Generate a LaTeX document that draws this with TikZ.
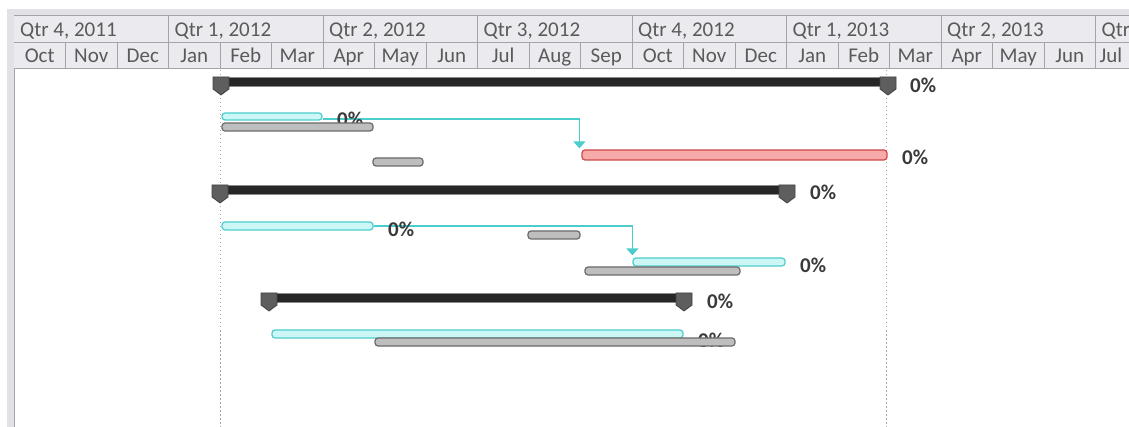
\documentclass[tikz,border=0pt]{standalone}
\usepackage{fontspec}
\setmainfont{Carlito}
\usetikzlibrary{arrows.meta,calc}
\definecolor{hdrfill}{HTML}{EBEBEF}
\definecolor{hdrband}{HTML}{E2E2E6}
\definecolor{hdrline}{HTML}{A4A4A8}
\definecolor{hdrtext}{HTML}{5A5A5A}
\definecolor{cyanfill}{HTML}{CDF6F6}
\definecolor{cyanline}{HTML}{4CCDCD}
\definecolor{grayfill}{HTML}{BEBEBE}
\definecolor{grayline}{HTML}{6A6A6A}
\definecolor{redfill}{HTML}{F7AAAA}
\definecolor{redline}{HTML}{D04848}
\definecolor{sumfill}{HTML}{262626}
\definecolor{sumline}{HTML}{8A8A8A}
\definecolor{capfill}{HTML}{5E5E5E}
\definecolor{lbltext}{HTML}{3A3A3A}
\tikzset{
  hdrtxt/.style={text=hdrtext,font=\fontsize{21}{24}\selectfont,inner sep=0pt},
  barbase/.style={rectangle,rounded corners=3pt,inner sep=0pt,line width=1.2pt},
  cyanbar/.style={barbase,fill=cyanfill,draw=cyanline},
  graybar/.style={barbase,fill=grayfill,draw=grayline},
  redbar/.style={barbase,fill=redfill,draw=redline},
  sumbar/.style={rectangle,inner sep=0pt,fill=sumfill,draw=sumline,line width=1pt},
  capshape/.style={fill=capfill,draw=capfill!70!black,line width=0.8pt},
  pct/.style={anchor=base west,inner sep=0pt,text=lbltext,font=\fontsize{21}{24}\selectfont\bfseries},
  link/.style={draw=cyanline,line width=1.3pt,-{Triangle[width=12pt,length=7pt]}},
  guide/.style={draw=gray!70,line width=0.9pt,dash pattern=on 1.5pt off 2.5pt}
}
\begin{document}
\begin{tikzpicture}[x=1pt,y=-1pt]
\useasboundingbox (0,0) rectangle (1129,427);
\clip (0,0) rectangle (1129,427);
\fill[white] (0,0) rectangle (1129,427);
% left border and top band
\fill[hdrband] (7,9) rectangle (1129,16);
\fill[hdrband] (7,9) rectangle (14,427);
\draw[hdrline,line width=1pt] (14,16) -- (14,427);
% header
\fill[hdrfill] (14,16) rectangle (1129,69);
\draw[hdrline,line width=1pt] (14,16) -- (1129,16) (14,43) -- (1129,43) (14,69) -- (1129,69);
\foreach \k in {1,...,7} \draw[hdrline,line width=1pt] ({14+154.5*\k},16) -- ({14+154.5*\k},69);
\foreach \k in {1,...,21} \draw[hdrline,line width=0.8pt] ({14+51.5*\k},43) -- ({14+51.5*\k},69);
\foreach \t [count=\i from 0] in {Qtr 4{,} 2011,Qtr 1{,} 2012,Qtr 2{,} 2012,Qtr 3{,} 2012,Qtr 4{,} 2012,Qtr 1{,} 2013,Qtr 2{,} 2013,Qtr 3{,} 2013}
  \node[hdrtxt,anchor=base west] (q\i) at ({20+154.5*\i},37) {\t};
\foreach \t [count=\i from 0] in {Oct,Nov,Dec,Jan,Feb,Mar,Apr,May,Jun,Jul,Aug,Sep,Oct,Nov,Dec,Jan,Feb,Mar,Apr,May,Jun}
  \node[hdrtxt,anchor=base] (m\i) at ({39.75+51.5*\i},63) {\t};
\node[hdrtxt,anchor=base] (m21) at (1111,63) {Jul};
% guide lines
\coordinate (ga) at (220,70); \coordinate (gb) at (220,427);
\coordinate (gc) at (886,70); \coordinate (gd) at (886,427);
\draw[guide] (ga) -- (gb);
\draw[guide] (gc) -- (gd);
% summary bars
\node[sumbar,minimum width=675pt,minimum height=9pt] (s1) at (552.5,82.5) {};
\node[sumbar,minimum width=577pt,minimum height=9pt] (s2) at (503.5,190.5) {};
\node[sumbar,minimum width=425pt,minimum height=9pt] (s3) at (477.5,298.5) {};
\foreach \cx/\ty in {221/77,888/77,220/185,787/185,269/293,684/293}
  \draw[capshape] ({\cx-8},\ty) -- ({\cx+8},\ty) -- ({\cx+8},{\ty+12}) -- (\cx,{\ty+18}) -- ({\cx-8},{\ty+12}) -- cycle;
% task bars
\node[cyanbar,minimum width=100pt,minimum height=7pt] (c1) at (272,116.5) {};
\node[redbar,minimum width=305pt,minimum height=10pt] (r1) at (734.5,155) {};
\node[graybar,minimum width=50pt,minimum height=8pt] (g2) at (398,162) {};
\node[cyanbar,minimum width=151pt,minimum height=8pt] (c3) at (297.5,226) {};
\node[graybar,minimum width=52pt,minimum height=8pt] (g3) at (554,235) {};
\node[cyanbar,minimum width=152pt,minimum height=8pt] (c4) at (709,262) {};
\node[graybar,minimum width=155pt,minimum height=8pt] (g4) at (662.5,271) {};
\node[cyanbar,minimum width=411pt,minimum height=8pt] (c5) at (477.5,334) {};
% connectors
\draw[link] ($(c1.east)+(0,2.5)$) -| ([xshift=-2pt,yshift=1pt]r1.north west);
\draw[link] (c3.east) -| ([xshift=0pt,yshift=2pt]c4.north west);
% labels
\node[pct] (l1) at (910,93) {0\%};
\node[pct] (l2) at (337,127) {0\%};
\node[pct] (l3) at (902,165) {0\%};
\node[pct] (l4) at (810,200) {0\%};
\node[pct] (l5) at (388,237) {0\%};
\node[pct] (l6) at (800,273) {0\%};
\node[pct] (l7) at (707,309) {0\%};
\node[pct] (l8) at (698,347) {0\%};
% gray bars drawn over hidden labels
\node[graybar,minimum width=151pt,minimum height=8pt] (g1) at (297.5,127) {};
\node[graybar,minimum width=360pt,minimum height=8pt] (g5) at (555,342) {};
\fill[white] (690,346.8) rectangle (740,352);
\fill[white] (330,131.8) rectangle (375,136);
\end{tikzpicture}
\end{document}
